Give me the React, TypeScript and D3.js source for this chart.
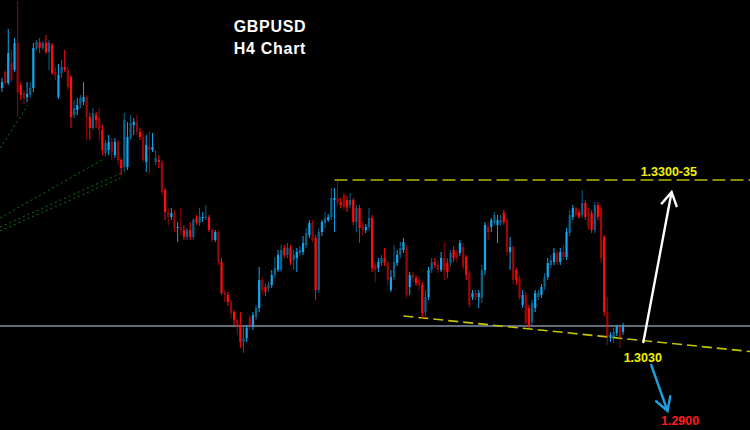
import React from "react";
import * as d3 from "d3";

// Prices in points (1 point = 0.0001)
const opens = [13392,13408,13397,13417,13410,13437,13395,13387,13383,13385,13392,13432,13438,13432,13437,13428,13435,13408,13383,13407,13413,13410,13403,13365,13370,13375,13378,13383,13363,13352,13365,13362,13350,13327,13330,13338,13325,13338,13320,13313,
13313,13342,13355,13358,13348,13343,13318,13333,13330,13318,13320,13318,13290,13268,13263,13267,13252,13253,13250,13243,13250,13243,13262,13257,13262,13262,13263,13250,13240,13248,13218,13188,13185,13178,13168,13160,13153,13138,13142,13163,
13153,13163,13172,13200,13193,13192,13195,13205,13210,13210,13232,13225,13232,13220,13222,13227,13228,13235,13245,13257,13242,13190,13248,13257,13260,13263,13280,13282,13278,13285,13280,13275,13280,13258,13272,13255,13250,13253,13262,13215,
13212,13217,13222,13217,13190,13203,13217,13225,13230,13232,13193,13205,13202,13200,13195,13168,13183,13210,13218,13215,13210,13222,13217,13217,13230,13227,13227,13233,13223,13207,13183,13187,13183,13182,13210,13253,13253,13257,13255,13257,
13267,13260,13228,13233,13210,13202,13175,13185,13172,13158,13172,13183,13185,13193,13203,13215,13218,13227,13218,13228,13223,13247,13263,13272,13268,13265,13277,13268,13267,13250,13275,13272,13243,13168,13142,13142,13147,13153,13148];
const highs = [13402,13410,13451,13430,13442,13479,13398,13390,13398,13398,13437,13440,13442,13439,13445,13440,13437,13413,13416,13420,13430,13414,13405,13380,13382,13385,13398,13385,13367,13372,13368,13372,13355,13340,13345,13342,13342,13340,13322,13367,
13358,13365,13362,13365,13352,13349,13345,13349,13347,13330,13325,13320,13292,13272,13272,13270,13258,13272,13255,13252,13258,13262,13265,13272,13268,13275,13265,13252,13250,13250,13222,13190,13188,13180,13170,13162,13168,13153,13155,13165,
13168,13175,13213,13203,13196,13198,13210,13223,13230,13235,13235,13237,13235,13230,13232,13234,13244,13252,13260,13260,13245,13252,13260,13268,13266,13292,13292,13300,13282,13287,13284,13287,13282,13275,13275,13258,13256,13272,13265,13218,
13222,13225,13232,13220,13210,13235,13230,13238,13242,13235,13208,13208,13205,13203,13198,13190,13213,13222,13222,13220,13228,13238,13222,13230,13234,13230,13240,13237,13225,13210,13190,13190,13190,13215,13258,13258,13262,13268,13265,13265,
13270,13262,13243,13235,13212,13205,13190,13188,13175,13180,13190,13190,13196,13207,13222,13225,13232,13230,13232,13235,13252,13270,13275,13274,13271,13290,13280,13272,13270,13278,13278,13275,13245,13183,13148,13152,13155,13155,13157];
const lows = [13388,13395,13395,13398,13408,13363,13380,13376,13378,13382,13388,13430,13427,13430,13426,13410,13405,13400,13381,13402,13408,13390,13352,13362,13365,13372,13375,13340,13340,13350,13352,13340,13325,13324,13325,13320,13322,13315,13305,13308,
13310,13340,13345,13345,13340,13318,13308,13307,13328,13315,13312,13285,13260,13255,13260,13248,13238,13245,13240,13240,13240,13240,13255,13254,13258,13260,13248,13238,13238,13215,13185,13178,13174,13162,13155,13145,13132,13127,13138,13150,
13150,13160,13168,13185,13184,13188,13192,13202,13208,13208,13222,13222,13215,13210,13208,13224,13225,13232,13242,13238,13180,13187,13244,13252,13258,13260,13248,13274,13272,13270,13268,13272,13255,13248,13237,13245,13247,13250,13208,13198,
13208,13214,13214,13195,13188,13200,13214,13222,13227,13182,13185,13198,13194,13190,13162,13164,13180,13207,13212,13207,13208,13200,13202,13214,13218,13218,13224,13210,13200,13172,13180,13180,13172,13177,13205,13240,13248,13255,13237,13254,
13255,13224,13210,13196,13195,13180,13172,13152,13152,13155,13168,13180,13182,13190,13200,13212,13215,13215,13215,13220,13220,13244,13260,13263,13261,13262,13260,13250,13247,13247,13260,13218,13164,13135,13138,13137,13144,13132,13145];
const closes = [13398,13397,13427,13400,13437,13387,13385,13382,13386,13392,13432,13438,13432,13437,13428,13437,13407,13405,13405,13413,13410,13393,13363,13372,13375,13382,13383,13363,13352,13367,13360,13350,13330,13337,13338,13328,13338,13320,13312,13360,
13343,13357,13358,13348,13343,13320,13335,13330,13333,13322,13318,13288,13268,13263,13267,13252,13253,13250,13243,13250,13243,13260,13258,13263,13263,13263,13250,13240,13248,13218,13187,13185,13178,13167,13160,13153,13138,13142,13152,13153,
13165,13172,13200,13190,13188,13195,13205,13212,13225,13230,13225,13232,13218,13225,13228,13230,13237,13247,13257,13240,13190,13248,13258,13262,13263,13282,13282,13277,13275,13273,13273,13280,13258,13272,13252,13250,13253,13262,13212,13210,
13218,13222,13217,13200,13203,13218,13225,13232,13238,13185,13205,13202,13197,13195,13167,13183,13210,13218,13215,13210,13222,13210,13208,13227,13222,13222,13237,13213,13205,13175,13187,13183,13187,13210,13255,13248,13260,13265,13260,13260,
13258,13228,13233,13200,13200,13182,13185,13157,13155,13177,13187,13187,13193,13203,13217,13220,13227,13218,13228,13223,13248,13265,13272,13265,13263,13277,13263,13253,13250,13275,13263,13222,13168,13143,13145,13148,13153,13143,13155];

// Annotations (index units on x, points on y)
const resistanceLevel = 13300;
const resistanceStartIdx = 106;
const horizontalLevel = 13154;
const supportLine = [[128, 13164], [240, 13128]];
const fanLines = [
  [[-0.6, 13332], [8.3, 13375]],
  [[-0.6, 13262], [32.4, 13321]],
  [[-0.6, 13253], [38.1, 13307]],
  [[-0.6, 13249], [37.8, 13302]],
];
const upArrow = [[204.5, 13138], [213.5, 13288]];
const downArrow = [[207, 13115], [212.2, 13069]];
const priceLabels = [
  { text: "1.3300-35", idx: 212.6, price: 13304, color: "#f2f200" },
  { text: "1.3030", idx: 204.3, price: 13118, color: "#f2f200" },
  { text: "1.2900", idx: 216.2, price: 13055, color: "#ff1a1a" },
];
const titleLines = ["GBPUSD", "H4 Chart"];

const W = 750;
const H = 430;

export default function App() {
  const x = d3.scaleLinear().domain([0, opens.length - 1]).range([2, 623]);
  const y = d3.scaleLinear().domain([13050, 13480]).range([H, 0]);
  const line = d3.line<number[]>().x((d) => x(d[0])).y((d) => y(d[1]));

  const arrowHead = (pts: number[][], len: number, ang: number) => {
    const [x0, y0] = [x(pts[0][0]), y(pts[0][1])];
    const [x1, y1] = [x(pts[1][0]), y(pts[1][1])];
    const a = Math.atan2(y0 - y1, x0 - x1);
    const w1 = [x1 + len * Math.cos(a + ang), y1 + len * Math.sin(a + ang)];
    const w2 = [x1 + len * Math.cos(a - ang), y1 + len * Math.sin(a - ang)];
    return `M${x0},${y0}L${x1},${y1}M${w1[0]},${w1[1]}L${x1},${y1}L${w2[0]},${w2[1]}`;
  };

  const rightIdx = x.invert(W);

  return (
    <div style={{ position: "fixed", left: 0, top: 0 }}>
      <svg width={W} height={H} style={{ display: "block", background: "#000" }}>
        <rect width={W} height={H} fill="#000" />
        {fanLines.map((l, i) => (
          <path key={"f" + i} d={line(l) || ""} stroke="#0c7a0c" strokeWidth={1} strokeDasharray="2,3" fill="none" />
        ))}
        <line x1={0} x2={W} y1={y(horizontalLevel)} y2={y(horizontalLevel)} stroke="#8190a6" strokeWidth={1.4} />
        <line x1={x(resistanceStartIdx)} x2={x(rightIdx)} y1={y(resistanceLevel)} y2={y(resistanceLevel)}
          stroke="#b8b800" strokeWidth={1.6} strokeDasharray="13,5" />
        <path d={line(supportLine) || ""} stroke="#c4c400" strokeWidth={1.6} strokeDasharray="10,5" fill="none" />
        {opens.map((o, i) => {
          const c = closes[i];
          const up = c >= o;
          const col = up ? "#12a6ee" : "#ff0d0d";
          const cx = x(i);
          const top = y(Math.max(o, c));
          const bot = y(Math.min(o, c));
          return (
            <g key={i} opacity={i % 2 === 0 ? 1 : 0.6}>
              <line x1={cx} x2={cx} y1={y(highs[i])} y2={y(lows[i])} stroke={col} strokeWidth={1} />
              <rect x={cx - 1.1} y={top} width={2.2} height={Math.max(1, bot - top)} fill={col} />
            </g>
          );
        })}
        <path d={arrowHead(upArrow, 15, Math.PI / 6)} stroke="#ffffff" strokeWidth={2.4} fill="none" strokeLinecap="round" />
        <path d={arrowHead(downArrow, 15, Math.PI / 6)} stroke="#1f9ee0" strokeWidth={2.4} fill="none" strokeLinecap="round" />
        {priceLabels.map((p) => (
          <text key={p.text} x={x(p.idx)} y={y(p.price)} textAnchor="middle" fill={p.color}
            fontFamily="'Liberation Sans', Arial, sans-serif" fontWeight="bold" fontSize={12.5}>
            {p.text}
          </text>
        ))}
        {titleLines.map((t, i) => (
          <text key={t} x={270} y={32 + i * 22} textAnchor="middle" fill="#ffffff"
            fontFamily="'Liberation Sans', Arial, sans-serif" fontWeight="bold" fontSize={16} letterSpacing={0.7}>
            {t}
          </text>
        ))}
      </svg>
    </div>
  );
}
